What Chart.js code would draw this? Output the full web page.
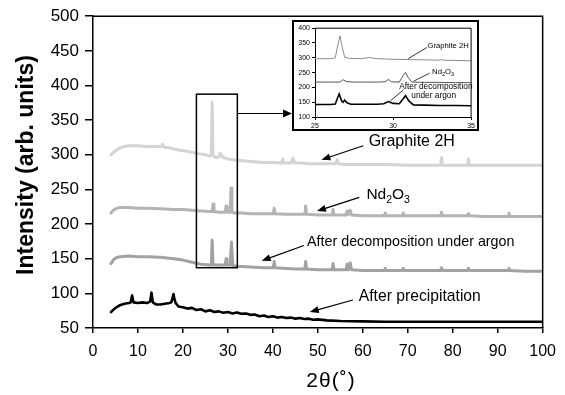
<!DOCTYPE html>
<html>
<head>
<meta charset="utf-8">
<script src="https://cdn.jsdelivr.net/npm/chart.js@4/dist/chart.umd.min.js"></script>
<style>
  html,body{margin:0;padding:0;background:#fff;}
  #wrap{position:relative;width:565px;height:395px;}
  #c{display:block;}
  #inset{position:absolute;left:292px;top:20px;width:187px;height:111px;box-sizing:border-box;border:2px solid #000;background:#fff;}
  #c2{display:block;}
</style>
</head>
<body>
<div id="wrap">
  <canvas id="c" width="565" height="395"></canvas>
  <div id="inset"><canvas id="c2" width="183" height="107"></canvas></div>
</div>
<script>
// ---------- main chart data ----------
const seriesNames = ['Graphite 2H', 'Nd2O3', 'After decomposition under argon', 'After precipitation'];

const graphiteX = [4,4.5,5,6,7,8,10,12,14,15.2,15.5,15.8,17,19,21,23,25,26,26.3,26.5,26.7,27,27.5,28,28.3,28.6,29,30,32,34,36,38,40,42,42.2,42.4,44,44.5,44.8,46,48,50,52,54,54.3,54.6,56,60,65,70,75,77.3,77.5,77.7,80,83.3,83.5,83.7,86,90,95,100];
const graphiteY = [300,303,306,310,312,313,313,312,312,312,315,311,310,307,305,302,300,298,300,376,300,297,296,297,302,299,296,294,292,291,290,289,289,288,294,288,288,295,288,288,287,287,287,287,293,287,286,286,286,285,285,285,296,285,285,285,294,285,285,285,285,285];

const nd2o3X = [4,4.5,5,6,8,10,12,15,18,20,22,24,26,26.5,26.7,26.9,28,29.4,29.6,29.8,30.5,30.7,30.9,31.5,33,35,38,40.1,40.3,40.5,43,45,47.1,47.3,47.5,50,53.2,53.4,53.6,55,56.3,56.5,56.8,57.2,57.5,60,62,64.8,65,65.2,68.8,69,69.2,72,75,77.3,77.5,77.7,80,83.3,83.5,83.7,87,92.3,92.5,92.7,96,100];
const nd2o3Y = [216,220,222,224,224,223,223,222,221,221,220,219,218,218,229,218,217,217,226,217,217,252,217,216,216,215,215,215,223,215,214,214,214,226,214,213,213,221,213,213,213,219,214,220,213,212,212,212,216,212,212,216,212,212,212,212,217,212,212,212,215,212,211,211,216,211,211,211];

const argonX = [4,4.5,5,6,8,10,12,15,18,20,22,24,26,26.3,26.5,26.7,27,28,29.4,29.6,29.8,30.5,30.8,31.1,32,35,38,40.1,40.3,40.5,43,45,47.1,47.3,47.5,50,53.2,53.4,53.6,55,56.3,56.5,56.8,57.2,57.5,60,62,64.8,65,65.2,68.8,69,69.2,72,75,77.3,77.5,77.7,80,83.3,83.5,83.7,87,92.3,92.5,92.7,96,100];
const argonY = [143,148,151,153,154,153,153,152,150,148,145,142,141,141,177,141,141,141,141,150,141,141,174,140,139,138,137,137,146,137,136,135,135,146,135,134,134,143,134,134,134,142,134,144,134,133,133,133,136,133,133,136,133,133,133,133,137,133,133,133,136,133,133,133,136,133,132,132];

const precipX = [4,5,6,7,8,8.4,8.7,9,10,11,12,12.7,13,13.3,14,15,16,17,17.4,17.7,17.9,18.1,18.4,19,20,21,22,23,24,25,26,27,28,29,30,31,32,33,34,35,36,37,38,39,40,41,42,43,44,45,46,47,48,49,50,52,55,60,65,70,75,80,85,90,95,100];
const precipY = [73,79,83,85,86,87,97,87,86,87,86,88,101,87,84,84,85,86,87,93,99,92,86,81,80,78,79,76,77,74,75.5,73,74,72,73,71,72.5,70.5,71,69,69.5,67,68,66,67,65,66,64.5,65,63.5,64.5,63,63.5,62,62.5,61,60,59.5,59,59,59,59,59,59,59,59];

const xTicksMain = {min:0, max:100, step:10};
const yTicksMain = {min:50, max:500, step:50};

// ---------- inset data ----------
const insetGraphiteX = [25,25.5,26,26.3,26.45,26.6,26.75,26.9,27.2,28,28.3,28.5,28.7,29,30,31,32,33,33.1,33.25,34,35];
const insetGraphiteY = [297,297,297,300,340,374,335,302,298,297,300,301,299,297,295,294,293,292,294,292,291,290];
const insetNdX = [25,26,26.6,26.8,27,27.4,28,29,29.5,29.7,29.9,30.4,30.65,30.8,30.95,31.2,32,33,34,35];
const insetNdY = [218,218,218,226,220,218,218,218,219,227,219,218,240,251,235,218,217,217,216,216];
const insetArgonX = [25,26,26.3,26.45,26.55,26.7,26.8,26.9,27.05,27.3,28,29,29.4,29.7,30,30.4,30.6,30.8,31,31.3,32,33,34,35];
const insetArgonY = [142,142,144,165,178,155,150,157,148,143,143,143,145,152,146,145,158,172,155,141,140,139,139,138];

const xTicksInset = {min:25, max:35, step:5};
const yTicksInset = {min:100, max:400, step:50};

// ---------- helpers ----------
const pts = (xs, ys) => xs.map((v,i)=>({x:v, y:ys[i]}));
const FONT = '"Liberation Sans", Arial, Helvetica, sans-serif';
Chart.defaults.color = '#000';

function arrow(ctx, x1, y1, x2, y2, len, half){
  len = len || 8; half = half || 3.5;
  const ang = Math.atan2(y2-y1, x2-x1);
  ctx.beginPath(); ctx.moveTo(x1,y1);
  ctx.lineTo(x2 - Math.cos(ang)*len*0.8, y2 - Math.sin(ang)*len*0.8); ctx.stroke();
  ctx.beginPath();
  ctx.moveTo(x2,y2);
  ctx.lineTo(x2 - Math.cos(ang)*len - Math.sin(ang)*half, y2 - Math.sin(ang)*len + Math.cos(ang)*half);
  ctx.lineTo(x2 - Math.cos(ang)*len + Math.sin(ang)*half, y2 - Math.sin(ang)*len - Math.cos(ang)*half);
  ctx.closePath(); ctx.fill();
}
function subText(ctx, parts, x, y, size, subSize, subDy){
  let cx = x;
  ctx.textBaseline='middle'; ctx.textAlign='left';
  parts.forEach(p=>{
    const sub = p[1];
    ctx.font = (sub?subSize:size)+'px '+FONT;
    ctx.fillText(p[0], cx, y + (sub?subDy:0));
    cx += ctx.measureText(p[0]).width;
  });
}

// ---------- main chart ----------
const mainAnnot = {
  id:'mainAnnot',
  afterDraw(chart){
    const {ctx, chartArea:a, scales:{x, y}} = chart;
    const X = v=>x.getPixelForValue(v), Y = v=>y.getPixelForValue(v);
    ctx.save();
    ctx.strokeStyle='#000'; ctx.fillStyle='#000'; ctx.lineWidth=1.5;
    // top & right frame
    ctx.beginPath(); ctx.moveTo(a.left, a.top); ctx.lineTo(a.right, a.top); ctx.lineTo(a.right, a.bottom); ctx.stroke();
    // zoom rectangle
    ctx.strokeRect(X(23), Y(387.5), X(32.1)-X(23), Y(137)-Y(387.5));
    // arrow to inset
    const insetLeft = document.getElementById('inset').offsetLeft;
    ctx.lineWidth=1.2;
    arrow(ctx, X(32.1), Y(359.6), insetLeft, Y(359.6), 9, 4);
    // label arrows
    arrow(ctx, X(60.1), Y(313), X(50.8), Y(292.7), 9, 3.5);
    arrow(ctx, X(59.2), Y(238.5), X(49.8), Y(218.7), 9, 3.5);
    arrow(ctx, X(46.9), Y(169), X(37.5), Y(147), 9, 3.5);
    arrow(ctx, X(57.8), Y(90.4), X(48.2), Y(73), 9, 3.5);
    // labels
    ctx.textBaseline='middle'; ctx.textAlign='left';
    ctx.font='16px '+FONT;
    ctx.fillText(seriesNames[0], X(61.3), Y(318.7));
    subText(ctx, [['Nd',0],['2',1],['O',0],['3',1]], X(60.8), Y(241.8), 15.5, 10.5, 5);
    ctx.font='14.3px '+FONT;
    ctx.fillText(seriesNames[2], X(47.6), Y(174));
    ctx.font='15.7px '+FONT;
    ctx.fillText(seriesNames[3], X(59.1), Y(95));
    // axis titles
    ctx.font='21px '+FONT; ctx.textAlign='center';
    ctx.letterSpacing='1px';
    ctx.fillText('2θ(˚)', 331, 381);
    ctx.letterSpacing='0px';
    ctx.save();
    ctx.translate(27, 165); ctx.rotate(-Math.PI/2);
    ctx.font='bold 23px '+FONT;
    ctx.fillText('Intensity (arb. units)', 0, 0);
    ctx.restore();
    ctx.restore();
  }
};

const axisCommon = (fontSize, tickLen, pad) => ({
  type:'linear',
  ticks:{color:'#000', font:{family:FONT, size:fontSize}, padding:pad, maxRotation:0, autoSkip:false},
  grid:{drawOnChartArea:false, drawTicks:true, tickLength:tickLen, color:'#000', lineWidth:1.5},
  border:{color:'#000', width:1.5}
});

const mxs = axisCommon(16, 5, 9);
Object.assign(mxs, {min:xTicksMain.min, max:xTicksMain.max, afterFit(s){ s.height = 67; }});
mxs.ticks.stepSize = xTicksMain.step;
const mys = axisCommon(17, 8, 6);
Object.assign(mys, {min:yTicksMain.min, max:yTicksMain.max, afterFit(s){ s.width = 93; }});
mys.ticks.stepSize = yTicksMain.step;

new Chart(document.getElementById('c').getContext('2d'), {
  type:'line',
  data:{datasets:[
    {label:seriesNames[0], data:pts(graphiteX, graphiteY), borderColor:'#d4d4d4', borderWidth:3},
    {label:seriesNames[1], data:pts(nd2o3X, nd2o3Y), borderColor:'#b4b4b4', borderWidth:3},
    {label:seriesNames[2], data:pts(argonX, argonY), borderColor:'#a2a2a2', borderWidth:3},
    {label:seriesNames[3], data:pts(precipX, precipY), borderColor:'#000000', borderWidth:2.6}
  ]},
  options:{
    responsive:false, animation:false, devicePixelRatio:1,
    layout:{padding:{top:16, right:22, left:0, bottom:0}},
    plugins:{legend:{display:false}, tooltip:{enabled:false}},
    elements:{point:{radius:0}, line:{tension:0, borderJoinStyle:'round', borderCapStyle:'round'}},
    scales:{x:mxs, y:mys}
  },
  plugins:[mainAnnot]
});

// ---------- inset chart ----------
const insetAnnot = {
  id:'insetAnnot',
  afterDraw(chart){
    const {ctx, chartArea:a, scales:{x, y}} = chart;
    const X = v=>x.getPixelForValue(v), Y = v=>y.getPixelForValue(v);
    ctx.save();
    ctx.strokeStyle='#000'; ctx.fillStyle='#000'; ctx.lineWidth=1;
    ctx.beginPath(); ctx.moveTo(a.left, a.top); ctx.lineTo(a.right, a.top); ctx.lineTo(a.right, a.bottom); ctx.stroke();
    ctx.lineWidth=0.8;
    ctx.beginPath(); ctx.moveTo(X(32.17), Y(335)); ctx.lineTo(X(30.97), Y(297)); ctx.stroke();
    ctx.beginPath(); ctx.moveTo(X(32.34), Y(248)); ctx.lineTo(X(31.31), Y(221)); ctx.stroke();
    ctx.beginPath(); ctx.moveTo(X(30.67), Y(192)); ctx.lineTo(X(29.82), Y(154)); ctx.stroke();
    ctx.textBaseline='middle'; ctx.textAlign='left';
    ctx.font='7.7px '+FONT;
    ctx.fillText(seriesNames[0], X(32.2), Y(340.5));
    subText(ctx, [['Nd',0],['2',1],['O',0],['3',1]], X(32.5), Y(253.7), 7.7, 5.5, 2.5);
    ctx.font='8.3px '+FONT; ctx.textAlign='center';
    ctx.fillText('After decomposition', X(32.74), Y(201.8));
    ctx.fillText('under argon', X(32.6), Y(172.5));
    ctx.restore();
  }
};

const ixs = axisCommon(7, 3, 2);
Object.assign(ixs, {min:xTicksInset.min, max:xTicksInset.max, afterFit(s){ s.height = 12; }});
ixs.ticks.stepSize = xTicksInset.step;
ixs.grid.lineWidth = 1; ixs.border.width = 1;
const iys = axisCommon(7, 3, 2);
Object.assign(iys, {min:yTicksInset.min, max:yTicksInset.max, afterFit(s){ s.width = 21; }});
iys.ticks.stepSize = yTicksInset.step;
iys.grid.lineWidth = 1; iys.border.width = 1;

new Chart(document.getElementById('c2').getContext('2d'), {
  type:'line',
  data:{datasets:[
    {label:seriesNames[0], data:pts(insetGraphiteX, insetGraphiteY), borderColor:'#8a8a8a', borderWidth:1},
    {label:seriesNames[1], data:pts(insetNdX, insetNdY), borderColor:'#555555', borderWidth:1},
    {label:seriesNames[2], data:pts(insetArgonX, insetArgonY), borderColor:'#000000', borderWidth:1.6}
  ]},
  options:{
    responsive:false, animation:false, devicePixelRatio:1,
    layout:{padding:{top:2, right:3, left:0, bottom:0}},
    plugins:{legend:{display:false}, tooltip:{enabled:false}},
    elements:{point:{radius:0}, line:{tension:0}},
    scales:{x:ixs, y:iys}
  },
  plugins:[insetAnnot]
});
</script>
</body>
</html>
